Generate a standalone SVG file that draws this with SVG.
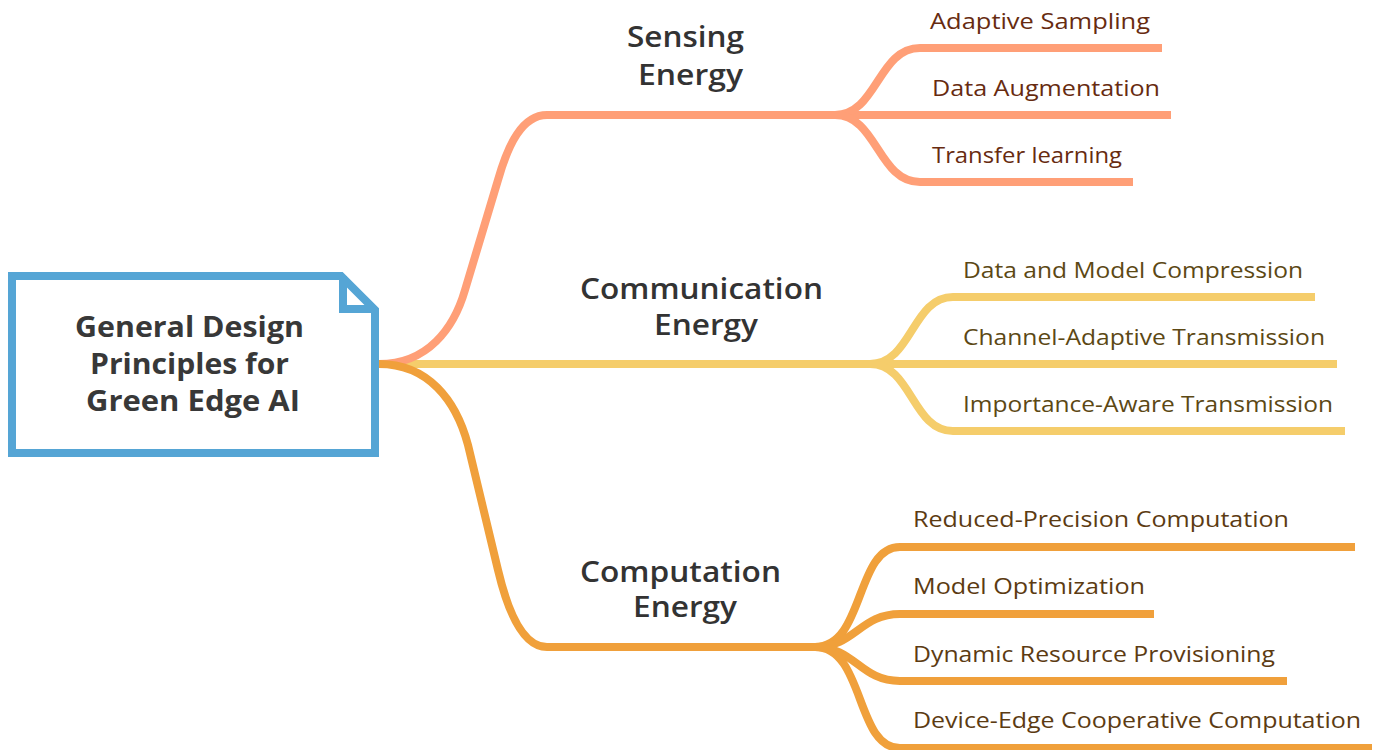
<svg xmlns="http://www.w3.org/2000/svg" width="1379" height="750" viewBox="0 0 1379 750">
<style>
.c{fill:none;stroke-width:8;stroke-linecap:butt;stroke-linejoin:round}
.s{stroke:#FF9F77}
.m{stroke:#F5CD6B}
.p{stroke:#F0A03B}
.t{font-family:"Open Sans","Liberation Sans",sans-serif;font-weight:700;font-size:28px;fill:#383838}
.b{font-family:"Open Sans","Liberation Sans",sans-serif;font-weight:600;font-size:28px;fill:#333333}
.l{font-family:"Open Sans","Liberation Sans",sans-serif;font-weight:400;font-size:22px}
.ls{fill:#672B10}
.lm{fill:#5C4814}
.lp{fill:#5C3B12}
</style>
<rect width="1379" height="750" fill="#FFFFFF"/>
<g id="connectors">
<path class="c m" d="M379,364 L1337,364"/>
<path class="c m" d="M870,364 C912,364 912,297 953,297 L1315,297"/>
<path class="c m" d="M870,364 C912,364 912,431 953,431 L1345,431"/>
<path class="c s" d="M379,364 C428,364 454,328 465,290 L498,180 C508,145 522,115 547,115 L1171,115"/>
<path class="c s" d="M835,115 C877,115 878,48 920,48 L1162,48"/>
<path class="c s" d="M835,115 C877,115 878,182 920,182 L1133,182"/>
<path class="c p" d="M379,364 C428,364 456,400 468,445 L498,570 C507,608 522,647 547,647 L815,647"/>
<path class="c p" d="M815,647 C865,647 855,547 900,547 L1355,547"/>
<path class="c p" d="M815,647 C855,647 860,614 900,614 L1154,614"/>
<path class="c p" d="M815,647 C855,647 860,681 900,681 L1287,681"/>
<path class="c p" d="M815,647 C865,647 855,748 900,748 L1372,748"/>
</g>
<g id="root">
<path d="M12,276 L341,276 L375,310 L375,453 L12,453 Z" fill="#FFFFFF" stroke="#55A5D5" stroke-width="8" stroke-linejoin="miter"/>
<path d="M343,276 L343,309 L375,309" fill="none" stroke="#55A5D5" stroke-width="8"/>
<text class="t" x="75" y="337" textLength="229" lengthAdjust="spacingAndGlyphs">General Design</text>
<text class="t" x="90" y="374" textLength="199" lengthAdjust="spacingAndGlyphs">Principles for</text>
<text class="t" x="86" y="411" textLength="214" lengthAdjust="spacingAndGlyphs">Green Edge AI</text>
</g>
<g id="sensing">
<text class="b" x="627" y="47" textLength="117" lengthAdjust="spacingAndGlyphs">Sensing</text>
<text class="b" x="638" y="85" textLength="105" lengthAdjust="spacingAndGlyphs">Energy</text>
</g>
<g id="communication">
<text class="b" x="580" y="299" textLength="243" lengthAdjust="spacingAndGlyphs">Communication</text>
<text class="b" x="654" y="335" textLength="104" lengthAdjust="spacingAndGlyphs">Energy</text>
</g>
<g id="computation">
<text class="b" x="580" y="582" textLength="201" lengthAdjust="spacingAndGlyphs">Computation</text>
<text class="b" x="633" y="617" textLength="104" lengthAdjust="spacingAndGlyphs">Energy</text>
</g>
<g id="leaf-adaptive-sampling"><text class="l ls" x="930" y="29" textLength="220" lengthAdjust="spacingAndGlyphs">Adaptive Sampling</text></g>
<g id="leaf-data-augmentation"><text class="l ls" x="932" y="96" textLength="228" lengthAdjust="spacingAndGlyphs">Data Augmentation</text></g>
<g id="leaf-transfer-learning"><text class="l ls" x="932" y="163" textLength="190" lengthAdjust="spacingAndGlyphs">Transfer learning</text></g>
<g id="leaf-data-model-compression"><text class="l lm" x="963" y="278" textLength="340" lengthAdjust="spacingAndGlyphs">Data and Model Compression</text></g>
<g id="leaf-channel-adaptive"><text class="l lm" x="963" y="345" textLength="362" lengthAdjust="spacingAndGlyphs">Channel-Adaptive Transmission</text></g>
<g id="leaf-importance-aware"><text class="l lm" x="963" y="412" textLength="370" lengthAdjust="spacingAndGlyphs">Importance-Aware Transmission</text></g>
<g id="leaf-reduced-precision"><text class="l lp" x="913" y="527" textLength="376" lengthAdjust="spacingAndGlyphs">Reduced-Precision Computation</text></g>
<g id="leaf-model-optimization"><text class="l lp" x="913" y="594" textLength="232" lengthAdjust="spacingAndGlyphs">Model Optimization</text></g>
<g id="leaf-dynamic-resource"><text class="l lp" x="913" y="662" textLength="362" lengthAdjust="spacingAndGlyphs">Dynamic Resource Provisioning</text></g>
<g id="leaf-device-edge"><text class="l lp" x="913" y="728" textLength="448" lengthAdjust="spacingAndGlyphs">Device-Edge Cooperative Computation</text></g>
</svg>
